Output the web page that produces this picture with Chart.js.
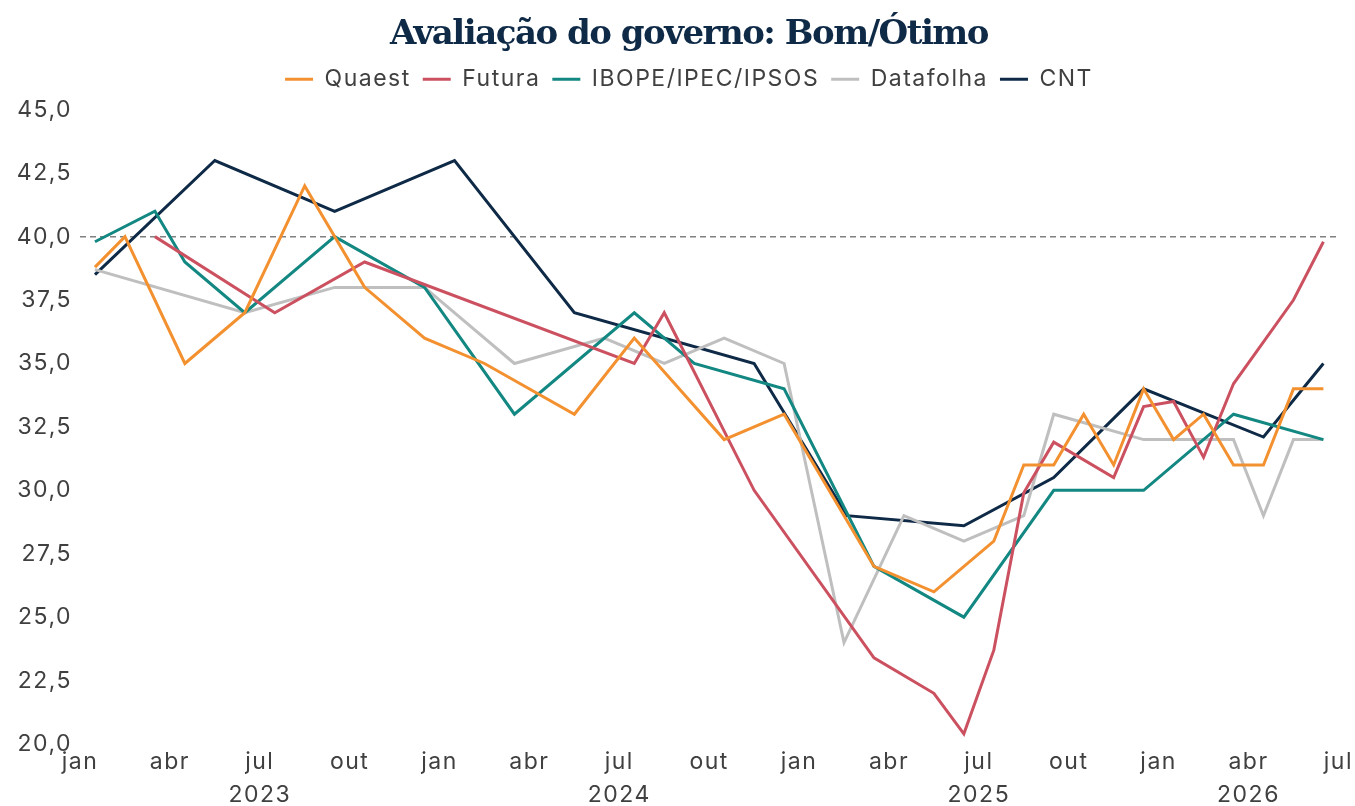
<!DOCTYPE html>
<html lang="pt-BR">
<head>
<meta charset="utf-8">
<title>Avaliação do governo: Bom/Ótimo</title>
<script src="https://cdn.jsdelivr.net/npm/chart.js@4.4.1/dist/chart.umd.min.js"></script>
<style>
  html, body { margin: 0; padding: 0; background: #fff; }
  #wrap { width: 1355px; height: 806px; }
</style>
</head>
<body>
<div id="wrap"><canvas id="chart"></canvas></div>
<script>
// x = months since jan 2023 (0 = jan/2023, 42 = jul/2026)
const monthNames = ['jan', 'fev', 'mar', 'abr', 'mai', 'jun', 'jul', 'ago', 'set', 'out', 'nov', 'dez'];
const yearLabels = { 6: '2023', 18: '2024', 30: '2025', 39: '2026' };

const quaestMonths = [0.5, 1.5, 3.5, 5.5, 7.5, 9.5, 11.5, 13.5, 16.5, 18.5, 21.5, 23.5, 26.5, 28.5, 30.5, 31.5, 32.5, 33.5, 34.5, 35.5, 36.5, 37.5, 38.5, 39.5, 40.5, 41.5];
const quaestValues = [38.8, 40.0, 35.0, 37.0, 42.0, 38.0, 36.0, 35.0, 33.0, 36.0, 32.0, 33.0, 27.0, 26.0, 28.0, 31.0, 31.0, 33.0, 31.0, 34.0, 32.0, 33.0, 31.0, 31.0, 34.0, 34.0];

const futuraMonths = [2.5, 6.5, 9.5, 18.5, 19.5, 22.5, 26.5, 28.5, 29.5, 30.5, 31.5, 32.5, 34.5, 35.5, 36.5, 37.5, 38.5, 40.5, 41.5];
const futuraValues = [40.0, 37.0, 39.0, 35.0, 37.0, 30.0, 23.4, 22.0, 20.4, 23.7, 29.9, 31.9, 30.5, 33.3, 33.5, 31.3, 34.2, 37.5, 39.8];

const ibopeMonths = [0.5, 2.5, 3.5, 5.5, 8.5, 11.5, 14.5, 18.5, 20.5, 23.5, 26.5, 29.5, 32.5, 35.5, 38.5, 41.5];
const ibopeValues = [39.8, 41.0, 39.0, 37.0, 40.0, 38.0, 33.0, 37.0, 35.0, 34.0, 27.0, 25.0, 30.0, 30.0, 33.0, 32.0];

const datafolhaMonths = [0.5, 5.5, 8.5, 11.5, 14.5, 17.5, 19.5, 21.5, 23.5, 25.5, 27.5, 29.5, 31.5, 32.5, 35.5, 38.5, 39.5, 40.5, 41.5];
const datafolhaValues = [38.7, 37.0, 38.0, 38.0, 35.0, 36.0, 35.0, 36.0, 35.0, 24.0, 29.0, 28.0, 29.0, 33.0, 32.0, 32.0, 29.0, 32.0, 32.0];

const cntMonths = [0.5, 4.5, 8.5, 12.5, 16.5, 22.5, 25.6, 29.5, 32.5, 35.5, 39.5, 41.5];
const cntValues = [38.5, 43.0, 41.0, 43.0, 37.0, 35.0, 29.0, 28.6, 30.5, 34.0, 32.1, 35.0];

const referenceValue = 40;

function toPoints(months, values) {
    return months.map((m, i) => ({ x: m, y: values[i] }));
}

function series(label, months, values, color) {
    return {
        label: label,
        data: toPoints(months, values),
        borderColor: color,
        backgroundColor: color,
        borderWidth: 3,
        pointRadius: 0,
        tension: 0
    };
}

const textColor = '#404040';
const sansFont = 'Inter, "Noto Sans", sans-serif';

// draw a box with its own letter spacing, nudged right like the original header
function wrapDraw(box, chart, spacing, shiftX) {
    const draw = box.draw;
    box.draw = function() {
        const ctx = chart.ctx;
        const prev = ctx.letterSpacing;
        ctx.save();
        ctx.translate(shiftX, 0);
        ctx.letterSpacing = spacing;
        draw.apply(this, arguments);
        ctx.restore();
        ctx.letterSpacing = prev;
    };
}

// wider sans text like the original, tighter serif title, a bit more room under the legend
const spacingPlugin = {
    id: 'spacing',
    beforeLayout(chart) { chart.ctx.letterSpacing = '1.5px'; },
    beforeDraw(chart) { chart.ctx.letterSpacing = '1.5px'; },
    afterInit(chart) {
        wrapDraw(chart.titleBlock, chart, '-1.5px', 14);
        wrapDraw(chart.legend, chart, '1.5px', 14);
        const legend = chart.legend;
        const fitLegend = legend.fit;
        legend.fit = function() {
            fitLegend.apply(this, arguments);
            this.height += 9;
        };
    }
};

new Chart(document.getElementById('chart'), {
    type: 'line',
    data: {
        datasets: [
            series('Quaest', quaestMonths, quaestValues, '#F39130'),
            series('Futura', futuraMonths, futuraValues, '#CC5160'),
            series('IBOPE/IPEC/IPSOS', ibopeMonths, ibopeValues, '#138781'),
            series('Datafolha', datafolhaMonths, datafolhaValues, '#BFBFBF'),
            series('CNT', cntMonths, cntValues, '#0E2A47'),
            {
                label: 'ref',
                data: [{ x: 0, y: referenceValue }, { x: 42, y: referenceValue }],
                borderColor: '#808080',
                borderWidth: 1.5,
                borderDash: [6, 4],
                pointRadius: 0
            }
        ]
    },
    plugins: [spacingPlugin],
    options: {
        responsive: true,
        maintainAspectRatio: false,
        animation: false,
        layout: { padding: { left: 10, right: 15, top: 0, bottom: 0 } },
        plugins: {
            title: {
                display: true,
                text: 'Avaliação do governo: Bom/Ótimo',
                color: '#0E2A47',
                font: { family: '"DejaVu Serif", serif', size: 34, weight: 'bold' },
                padding: { top: 15, bottom: 0 }
            },
            legend: {
                display: true,
                labels: {
                    color: textColor,
                    font: { family: sansFont, size: 23 },
                    boxWidth: 28,
                    boxHeight: 3,
                    padding: 12,
                    generateLabels: (chart) => Chart.defaults.plugins.legend.labels.generateLabels(chart)
                        .filter((item) => item.text !== 'ref')
                        .map((item) => Object.assign(item, { lineWidth: 0 }))
                }
            },
            tooltip: { enabled: false }
        },
        scales: {
            x: {
                type: 'linear',
                min: 0,
                max: 42,
                grid: { display: false, drawTicks: false },
                border: { display: false },
                afterFit: function(scale) { scale.height = 62; },
                ticks: {
                    stepSize: 3,
                    color: textColor,
                    padding: 2,
                    maxRotation: 0,
                    autoSkip: false,
                    font: { family: sansFont, size: 23, lineHeight: 1.42 },
                    callback: function(value) {
                        var month = monthNames[value % 12];
                        return yearLabels[value] ? [month, yearLabels[value]] : [month, ''];
                    }
                }
            },
            y: {
                min: 20,
                max: 45,
                grid: { display: false, drawTicks: false },
                border: { display: false },
                afterFit: function(scale) { scale.width = 70; },
                ticks: {
                    stepSize: 2.5,
                    color: textColor,
                    padding: 8,
                    font: { family: sansFont, size: 23 },
                    callback: function(value) { return value.toFixed(1).replace('.', ','); }
                }
            }
        }
    }
});
</script>
</body>
</html>
